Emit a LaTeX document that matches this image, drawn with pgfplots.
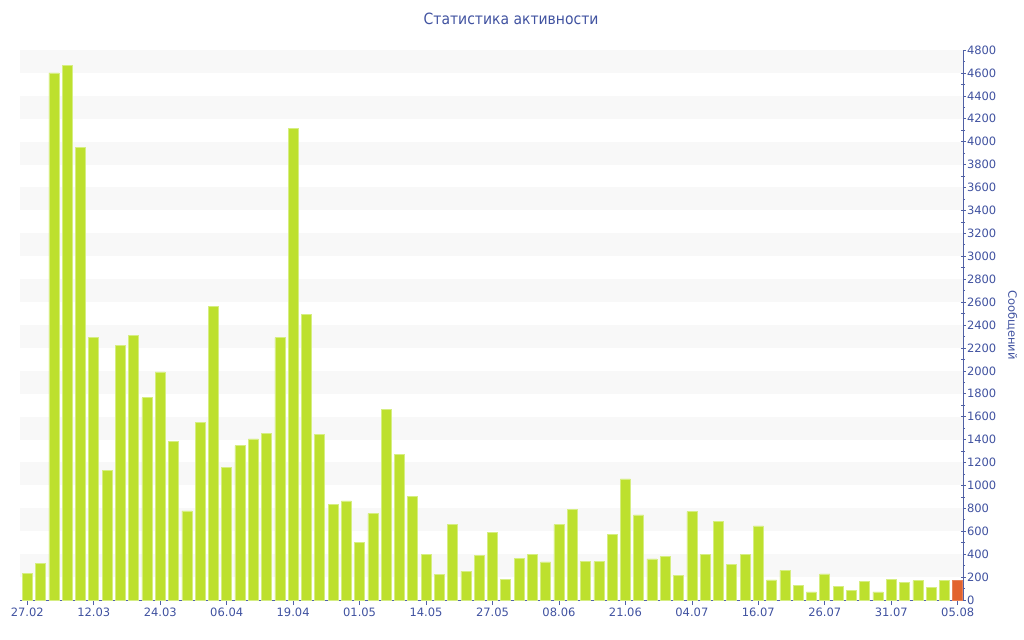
\documentclass[border=0pt]{standalone}
\usepackage{fontspec}
\setmainfont{DejaVu Sans}
\newfontfamily\titlefont{DejaVu Sans}[FakeStretch=0.9]
\usepackage{pgfplots}
\pgfplotsset{compat=1.18}
\usepackage{pgfplotstable}
\definecolor{barGreen}{RGB}{189,224,46}
\definecolor{barEdge}{RGB}{214,238,130}
\definecolor{barOrange}{RGB}{226,99,47}
\definecolor{bandGray}{RGB}{248,248,248}
\definecolor{txtBlue}{RGB}{64,82,160}
\definecolor{axBlue}{RGB}{80,96,165}
\pgfplotstableread{
x y
0 235
1 320
2 4600
3 4665
4 3950
5 2292
6 1134
7 2219
8 2312
9 1765
10 1990
11 1387
12 777
13 1547
14 2563
15 1155
16 1348
17 1406
18 1452
19 2289
20 4113
21 2490
22 1446
23 834
24 864
25 500
26 753
27 1662
28 1268
29 907
30 398
31 221
32 663
33 250
34 390
35 590
36 180
37 364
38 395
39 332
40 657
41 788
42 337
43 334
44 570
45 1056
46 742
47 358
48 381
49 218
50 771
51 401
52 683
53 308
54 398
55 646
56 175
57 259
58 125
59 70
60 227
61 122
62 81
63 163
64 70
65 180
66 154
67 168
68 107
69 168
}\greendata
\pgfplotstableread{
x y
70 172
}\orangedata
\begin{document}
\begin{tikzpicture}
\begin{axis}[
  at={(20bp,40bp)}, anchor=south west,
  scale only axis, width=943bp, height=550bp,
  xmin=-0.55, xmax=70.4, ymin=0, ymax=4800,
  axis x line=bottom, axis y line=right,
  axis line style={-, axBlue, line width=0.8bp},
  xtick={0,5,...,70},
  xticklabels={27.02,12.03,24.03,06.04,19.04,01.05,14.05,27.05,08.06,21.06,04.07,16.07,26.07,31.07,05.08},
  ytick={0,200,...,4800},
  minor y tick num=1,
  x tick style={axBlue, line width=0.6bp},
  y tick style={axBlue, line width=0.6bp},
  xtick align=outside, ytick align=center,
  major tick length=5bp, minor tick length=4bp,
  tick label style={font=\fontsize{11.5bp}{13bp}\selectfont, text=txtBlue},
  /pgf/number format/assume math mode=true,
  /pgf/number format/1000 sep={},
  xticklabel style={yshift=1bp},
  yticklabel style={xshift=-2bp},
  ybar, bar width=10bp, bar shift=0pt,
  title={\titlefont\fontsize{15.5bp}{17bp}\selectfont Статистика активности},
  title style={at={(axis description cs:0.5207,1)}, anchor=center, yshift=25bp, text=txtBlue},
  ylabel={Сообщений},
  ylabel style={at={(axis description cs:1.052,0.5)}, anchor=center, rotate=180, font=\fontsize{11.5bp}{13bp}\selectfont, text=txtBlue},
  clip=false,
]
\pgfplotsinvokeforeach{0,...,11}{
  \fill[bandGray] (axis cs:-0.55,{400*#1+200}) rectangle (axis cs:70.4,{400*#1+400});
}
\addplot[fill=barGreen, draw=barEdge, line width=0.6bp] table[x=x,y=y] {\greendata};
\addplot[fill=barOrange, draw=barOrange!80!white, line width=0.6bp] table[x=x,y=y] {\orangedata};
\end{axis}
\pgfresetboundingbox
\path (0,0) rectangle (1024bp,640bp);
\end{tikzpicture}
\end{document}
